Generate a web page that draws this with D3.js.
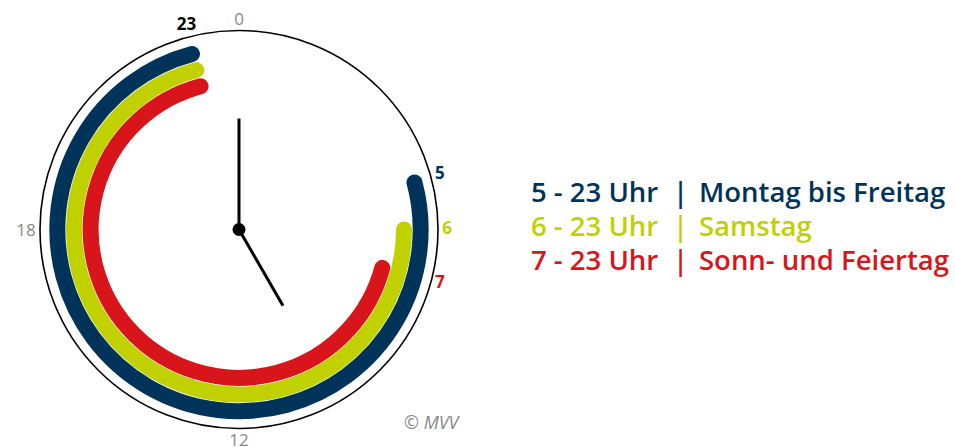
<!DOCTYPE html>
<html>
<head>
<meta charset="utf-8">
<script src="https://cdn.jsdelivr.net/npm/d3@7"></script>
<style>
  html, body { margin: 0; padding: 0; background: #fff; }
  svg { display: block; font-family: "Open Sans", "Noto Sans", sans-serif; }
  .legend text { font-size: 27.5px; font-weight: 600; }
</style>
</head>
<body>
<svg id="chart" width="955" height="447"></svg>
<script>
// service periods (hours on a 24h dial)
const series = ['Montag bis Freitag', 'Samstag', 'Sonn- und Feiertag'];
const startHours = [5, 6, 7];
const endHours = [23, 23, 23];
const colors = ['#003359', '#c1d100', '#d7151b'];

// dial labels
const greyTicks = [0, 12, 18];
const closeTick = 23;

// hands of the clock
const clockHour = 5;
const clockMinute = 0;

const svg = d3.select('#chart');
const cx = 239, cy = 229.5, radius = 199;
const g = svg.append('g').attr('transform', `translate(${cx},${cy})`);

// hour -> angle (radians from 12 o'clock, clockwise)
const angle = d3.scaleLinear().domain([0, 24]).range([0, 2 * Math.PI]);
// which ring each series sits on
const ring = d3.scaleBand().domain(series).range([190, 140]);

const polar = (a, r) => [r * Math.sin(a), -r * Math.cos(a)];

// outer circle
g.append('circle')
    .attr('r', radius)
    .attr('fill', 'none')
    .attr('stroke', '#000')
    .attr('stroke-width', 1.6);

// arcs
g.selectAll('.band')
  .data(series)
  .join('path')
    .attr('class', 'band')
    .attr('d', (d, i) => {
      const r = ring(d) + ring.bandwidth() / 2;
      const p = d3.path();
      const a0 = angle(startHours[i]) - Math.PI / 2;
      const a1 = angle(endHours[i]) - Math.PI / 2;
      p.moveTo(r * Math.cos(a0), r * Math.sin(a0));
      p.arc(0, 0, r, a0, a1, false);
      return p.toString();
    })
    .attr('fill', 'none')
    .attr('stroke', (d, i) => colors[i])
    .attr('stroke-width', 16)
    .attr('stroke-linecap', 'round');

// hour labels
const labelR = 211;
g.selectAll('.tick-grey')
  .data(greyTicks)
  .join('text')
    .attr('class', 'tick-grey')
    .attr('x', d => polar(angle(d), labelR + (d === 18 ? 2 : 0))[0])
    .attr('y', d => polar(angle(d), labelR)[1] - (d === 12 ? 1 : 0))
    .attr('dy', '0.36em')
    .attr('text-anchor', 'middle')
    .attr('fill', '#888')
    .attr('font-size', 17)
    .text(d => d);

g.selectAll('.tick-start')
  .data(startHours)
  .join('text')
    .attr('class', 'tick-start')
    .attr('x', d => polar(angle(d), labelR)[0] - 3)
    .attr('y', d => polar(angle(d), labelR)[1] - 2)
    .attr('dy', '0.36em')
    .attr('text-anchor', 'middle')
    .attr('fill', (d, i) => colors[i])
    .attr('font-size', 17)
    .attr('font-weight', 700)
    .text(d => d);

g.append('text')
    .attr('x', polar(angle(closeTick), labelR)[0] + 2)
    .attr('y', polar(angle(closeTick), labelR)[1] - 2)
    .attr('dy', '0.36em')
    .attr('text-anchor', 'middle')
    .attr('fill', '#000')
    .attr('font-size', 17)
    .attr('font-weight', 700)
    .text(closeTick);

// hands
const hand12 = d3.scaleLinear().domain([0, 12]).range([0, 2 * Math.PI]);
const hand60 = d3.scaleLinear().domain([0, 60]).range([0, 2 * Math.PI]);
const hands = [
  {a: hand60(clockMinute), len: 111},
  {a: hand12(clockHour % 12 + clockMinute / 60), len: 88}
];
g.selectAll('.hand')
  .data(hands)
  .join('line')
    .attr('class', 'hand')
    .attr('x1', 0).attr('y1', 0)
    .attr('x2', d => polar(d.a, d.len)[0])
    .attr('y2', d => polar(d.a, d.len)[1])
    .attr('stroke', '#000')
    .attr('stroke-width', 3);
g.append('circle').attr('r', 6.5).attr('fill', '#000');

// copyright
svg.append('text')
    .attr('x', 404)
    .attr('y', 429)
    .attr('fill', '#888')
    .attr('font-size', 18)
    .attr('font-style', 'italic')
    .text('© MVV');

// legend
const legend = svg.append('g').attr('class', 'legend');
const row = legend.selectAll('g')
  .data(series)
  .join('g')
    .attr('transform', (d, i) => `translate(0,${202 + i * 34})`)
    .attr('fill', (d, i) => colors[i]);
row.append('text').attr('x', 531).text((d, i) => `${startHours[i]} - ${endHours[i]} Uhr`);
row.append('text').attr('x', 673).text('|');
row.append('text').attr('x', 699).text(d => d);
</script>
</body>
</html>
